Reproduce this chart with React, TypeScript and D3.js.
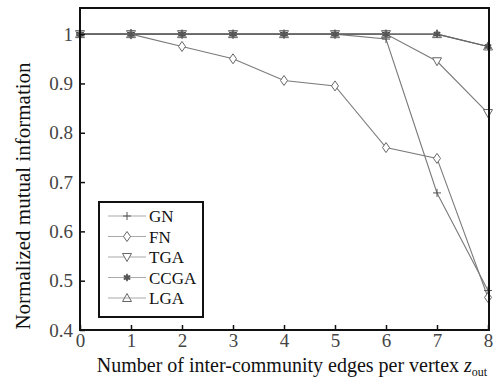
import React, { useRef, useEffect } from "react";
import * as d3 from "d3";

const xs = [0, 1, 2, 3, 4, 5, 6, 7, 8];
const seriesNames = ["GN", "FN", "TGA", "CCGA", "LGA"];
const gn = [1, 1, 1, 1, 1, 1, 0.99, 0.678, 0.48];
const fn = [1, 1, 0.975, 0.95, 0.906, 0.895, 0.77, 0.748, 0.466];
const tga = [1, 1, 1, 1, 1, 1, 1, 0.945, 0.84];
const ccga = [1, 1, 1, 1, 1, 1, 1, 1, 0.975];
const lga = [1, 1, 1, 1, 1, 1, 1, 1, 0.975];
const yTicks = [0.4, 0.5, 0.6, 0.7, 0.8, 0.9, 1];

const App = () => {
  const ref = useRef<SVGSVGElement>(null);

  useEffect(() => {
    const svg = d3.select(ref.current);
    svg.selectAll("*").remove();

    const left = 80, right = 489, top = 8, bottom = 330;
    const x = d3.scaleLinear().domain([0, 8]).range([left, right - 1]);
    const y = d3.scaleLinear().domain([0.4, 1.053]).range([bottom, top]);
    const font = "Liberation Serif, Times New Roman, serif";
    const lineColor = "#7a7a7a";

    const all = [gn, fn, tga, ccga, lga];
    const marker = (g: any, kind: string, cx: number, cy: number) => {
      if (kind === "GN") {
        g.append("path").attr("d", `M${cx - 4},${cy}H${cx + 4}M${cx},${cy - 4}V${cy + 4}`)
          .attr("stroke", "#555").attr("fill", "none");
      } else if (kind === "FN") {
        g.append("path").attr("d", `M${cx},${cy - 5}L${cx + 3.5},${cy}L${cx},${cy + 5}L${cx - 3.5},${cy}Z`)
          .attr("stroke", "#666").attr("fill", "#fff");
      } else if (kind === "TGA") {
        g.append("path").attr("d", `M${cx - 4.5},${cy - 3.5}L${cx + 4.5},${cy - 3.5}L${cx},${cy + 4.5}Z`)
          .attr("stroke", "#666").attr("fill", "#fff");
      } else if (kind === "CCGA") {
        const s = d3.symbol().type(d3.symbolAsterisk).size(40);
        g.append("path").attr("d", s()).attr("transform", `translate(${cx},${cy})`)
          .attr("stroke", "#444").attr("stroke-width", 1.5).attr("fill", "none");
        g.append("circle").attr("cx", cx).attr("cy", cy).attr("r", 2.5).attr("fill", "#555");
      } else {
        g.append("path").attr("d", `M${cx - 4.5},${cy + 3.5}L${cx + 4.5},${cy + 3.5}L${cx},${cy - 4.5}Z`)
          .attr("stroke", "#666").attr("fill", "none");
      }
    };

    const line = d3.line<number>().x((d, i) => x(xs[i])).y((d) => y(d));
    const plot = svg.append("g");
    all.forEach((vals, si) => {
      plot.append("path").attr("d", line(vals)).attr("fill", "none")
        .attr("stroke", si >= 3 ? "#666" : lineColor).attr("stroke-width", 1.1);
    });
    all.forEach((vals, si) => {
      vals.forEach((v, i) => marker(plot, seriesNames[si], x(xs[i]), y(v)));
    });

    // frame
    svg.append("rect").attr("x", left).attr("y", top).attr("width", right - left).attr("height", bottom - top)
      .attr("fill", "none").attr("stroke", "#111").attr("stroke-width", 2);

    const xAxis = svg.append("g").attr("transform", `translate(0,${bottom})`)
      .call(d3.axisBottom(x).tickValues(xs).tickFormat(d3.format("d")).tickSizeInner(-5).tickSizeOuter(0).tickPadding(4));
    xAxis.select(".domain").remove();
    xAxis.selectAll("line").attr("stroke", "#111").attr("stroke-width", 1.5);
    xAxis.selectAll("text").style("font-family", font).style("font-size", "19px").attr("fill", "#444");

    const yAxis = svg.append("g").attr("transform", `translate(${left},0)`)
      .call(d3.axisLeft(y).tickValues(yTicks).tickFormat((d: any) => (d === 1 ? "1" : d3.format(".1f")(d)))
        .tickSizeInner(-5).tickSizeOuter(0).tickPadding(7));
    yAxis.select(".domain").remove();
    yAxis.selectAll("line").attr("stroke", "#111").attr("stroke-width", 1.5);
    yAxis.selectAll("text").style("font-family", font).style("font-size", "19px").attr("fill", "#444");

    // axis titles
    const xt = svg.append("text").attr("x", 292).attr("y", 372).attr("text-anchor", "middle")
      .style("font-family", font).style("font-size", "20px").attr("fill", "#111");
    xt.append("tspan").text("Number of inter-community edges per vertex ");
    xt.append("tspan").attr("font-style", "italic").text("z");
    xt.append("tspan").style("font-size", "12px").attr("dy", 4).text("out");

    svg.append("text").attr("transform", `translate(30,196) rotate(-90)`)
      .attr("text-anchor", "middle").style("font-family", font).style("font-size", "21px").attr("fill", "#111")
      .text("Normalized mutual information");

    // legend
    const lg = svg.append("g");
    lg.append("rect").attr("x", 99).attr("y", 202).attr("width", 104).attr("height", 115)
      .attr("fill", "#fff").attr("stroke", "#111").attr("stroke-width", 2);
    seriesNames.forEach((name, i) => {
      const ly = 216 + i * 20.5;
      lg.append("line").attr("x1", 108).attr("x2", 146).attr("y1", ly).attr("y2", ly)
        .attr("stroke", "#aaa").attr("stroke-width", 1.1);
      marker(lg, name, 127, ly);
      lg.append("text").attr("x", 149).attr("y", ly + 6).style("font-family", font).style("font-size", "17px")
        .attr("fill", "#111").text(name);
    });
  }, []);

  return (
    <svg ref={ref} width={494} height={380} style={{ position: "absolute", left: 0, top: 0, background: "#fff" }} />
  );
};

export default App;
